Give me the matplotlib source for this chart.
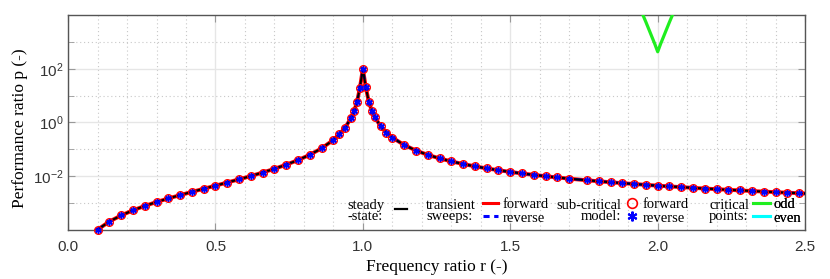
import numpy as np
import matplotlib
matplotlib.use("Agg")
import matplotlib.pyplot as plt
from matplotlib.lines import Line2D
from matplotlib.ticker import FixedLocator, MultipleLocator, NullFormatter

# datos
r_model = [0.10, 0.14, 0.18, 0.22, 0.26, 0.30, 0.34, 0.38, 0.42, 0.46,
           0.50, 0.54, 0.58, 0.62, 0.66, 0.70, 0.74, 0.78, 0.82, 0.86,
           0.90, 0.92, 0.94, 0.96, 0.97, 0.98, 0.99, 1.00, 1.01, 1.02,
           1.03, 1.04, 1.06, 1.08, 1.10, 1.14, 1.18, 1.22, 1.26, 1.30,
           1.34, 1.38, 1.42, 1.46, 1.50, 1.54, 1.58, 1.62, 1.66, 1.70,
           1.76, 1.80, 1.84, 1.88, 1.92, 1.96, 2.00, 2.04, 2.08, 2.12,
           2.16, 2.20, 2.24, 2.28, 2.32, 2.36, 2.40, 2.44, 2.48]
p_model = [1.02e-4, 2.04e-4, 3.46e-4, 5.35e-4, 7.78e-4, 1.09e-3, 1.48e-3, 1.97e-3, 2.60e-3, 3.40e-3,
           4.44e-3, 5.81e-3, 7.64e-3, 1.01e-2, 1.37e-2, 1.88e-2, 2.68e-2, 3.97e-2, 6.27e-2, 0.109,
           0.224, 0.358, 0.648, 1.48, 2.62, 5.77, 19.8, 100.0, 20.2, 5.99,
           2.78, 1.60, 0.730, 0.420, 0.274, 0.145, 0.0904, 0.0624, 0.0460, 0.0355,
           0.0284, 0.0233, 0.0195, 0.0167, 0.0144, 0.0126, 0.0112, 0.00995, 0.00894, 0.00809,
           0.00704, 0.00646, 0.00595, 0.00550, 0.00511, 0.00476, 0.00444, 0.00416, 0.00391, 0.00368,
           0.00347, 0.00328, 0.00311, 0.00295, 0.00280, 0.00267, 0.00254, 0.00243, 0.00232]

# lineas (estado estacionario y barridos) llegan hasta 2.5
r_sweep = r_model + [2.50]
p_sweep = p_model + [0.00227]

# puntos criticos
r_odd = [1.94, 1.95, 1.96, 1.97, 1.98, 1.99, 2.00, 2.01, 2.02, 2.03, 2.04, 2.05, 2.06]
p_odd = [2.0e4, 1.0e4, 5500, 2950, 1580, 850, 430, 850, 1580, 2950, 5500, 1.0e4, 2.0e4]
r_even = []
p_even = []

serif = "Liberation Serif"
sans = "Liberation Sans"
verde = "#1fee1f"

fig = plt.figure(figsize=(8.3, 2.79), dpi=100)
ax = fig.add_axes([0.082, 0.176, 0.888, 0.770])

ax.plot(r_sweep, p_sweep, color="red", lw=2.8, zorder=3)
ax.plot(r_sweep, p_sweep, color="blue", lw=1.8, ls=(0, (2.5, 2.5)), zorder=4)
ax.plot(r_sweep, p_sweep, color="black", lw=1.5, zorder=5)
ax.plot(r_model, p_model, ls="none", marker="o", ms=5.5, mfc="none", mec="red",
        mew=1.0, zorder=6, clip_on=False)
ax.plot(r_model, p_model, ls="none", marker=(6, 2, 0), ms=4.5, mec="blue",
        mew=1.1, zorder=7, clip_on=False)
ax.plot(r_odd, p_odd, color=verde, lw=2.3, zorder=5)
ax.plot(r_even, p_even, color="cyan", lw=2.3, zorder=5)

ax.set_yscale("log")
ax.set_xlim(0, 2.5)
ax.set_ylim(1e-4, 1e4)

ax.xaxis.set_major_locator(MultipleLocator(0.5))
ax.xaxis.set_minor_locator(MultipleLocator(0.1))
ax.set_xticklabels([f"{v:.1f}" for v in ax.get_xticks()])
ax.yaxis.set_major_locator(FixedLocator([1e-2, 1e0, 1e2]))
ax.yaxis.set_minor_locator(FixedLocator([1e-3, 1e-1, 1e1, 1e3]))
ax.yaxis.set_minor_formatter(NullFormatter())

ax.grid(True, which="major", color="#e6e6e6", lw=1.0, ls="-")
ax.grid(True, which="minor", color="#c8c8c8", lw=0.8, ls=(0, (1, 2.5)))
ax.set_axisbelow(True)

ax.tick_params(which="both", direction="in", top=True, right=True,
               color="#999999", labelcolor="#333333", labelsize=11)
ax.tick_params(axis="x", which="both", pad=7)
ax.tick_params(axis="y", which="both", pad=3)
ax.tick_params(axis="x", which="minor", length=0)
ax.tick_params(which="major", length=5)
ax.tick_params(axis="y", which="minor", length=4)
for lab in ax.get_xticklabels() + ax.get_yticklabels():
    lab.set_family(sans)
for s in ax.spines.values():
    s.set_color("#555555")
    s.set_linewidth(1.0)

ax.set_xlabel("Frequency ratio r (-)", family=serif, fontsize=12.5, labelpad=4)
ax.set_ylabel("Performance ratio p (-)", family=serif, fontsize=12.5)
ax.yaxis.set_label_coords(-0.054, 0.475)

# leyenda por grupos
fs = 10.5
yc = 0.088
kw = dict(frameon=False, borderpad=0, borderaxespad=0,
          labelspacing=0.05, loc="center left",
          prop={"family": serif, "size": fs})

def titulo(x, texto, ha="left"):
    ax.text(x, yc, texto, transform=ax.transAxes, family=serif, fontsize=fs,
            ha=ha, va="center", linespacing=0.8, zorder=10)

titulo(0.379, "steady\n-state:")
leg1 = ax.legend([Line2D([], [], color="black", lw=1.6)], [""],
                 bbox_to_anchor=(0.4437, yc), handlelength=0.85,
                 handletextpad=0.35, **kw)
ax.add_artist(leg1)

titulo(0.4858, "transient\nsweeps:")
leg2 = ax.legend([Line2D([], [], color="red", lw=2.2),
                  Line2D([], [], color="blue", lw=2.2, ls=(0, (2, 1.5)))],
                 ["forward", "reverse"], bbox_to_anchor=(0.563, yc),
                 handlelength=1.0, handletextpad=0.35, **kw)
ax.add_artist(leg2)

titulo(0.7504, "sub-critical\nmodel:", ha="right")
leg3 = ax.legend([Line2D([], [], ls="none", marker="o", ms=7, mfc="none", mec="red", mew=1.2),
                  Line2D([], [], ls="none", marker=(6, 2, 0), ms=7, mec="blue", mew=1.5)],
                 ["forward", "reverse"], bbox_to_anchor=(0.7571, yc),
                 handlelength=0.8, handletextpad=0.35, **kw)
ax.add_artist(leg3)

titulo(0.8697, "critical\npoints:")
leg4 = ax.legend([Line2D([], [], color=verde, lw=2.2),
                  Line2D([], [], color="cyan", lw=2.2)],
                 ["odd", "even"], bbox_to_anchor=(0.929, yc),
                 handlelength=1.2, handletextpad=0.2, **kw)
ax.add_artist(leg4)

fig.savefig("out.png", dpi=100)
